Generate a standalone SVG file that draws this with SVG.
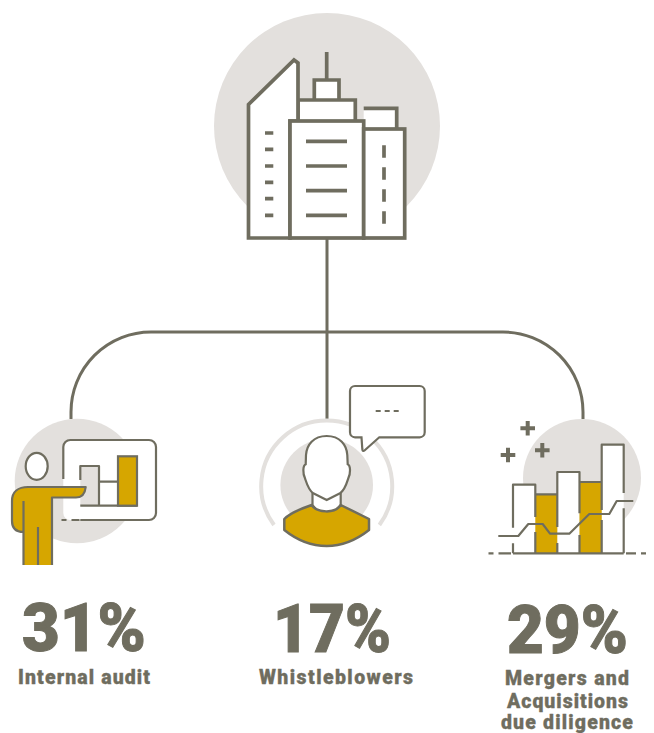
<svg xmlns="http://www.w3.org/2000/svg" width="654" height="733" viewBox="0 0 654 733">
<style>
.ln{fill:none;stroke:#6f6d5f;stroke-width:2.2;stroke-linejoin:round}
.bd{fill:#fff;stroke:#6f6d5f;stroke-width:3.7;stroke-linejoin:miter}
.wl{fill:none;stroke:#6f6d5f;stroke-width:3.7}
.bg{fill:#e3e0dd}
.au{fill:#d6a600}
.num{font-family:Roboto,"Liberation Sans",Arial,sans-serif;font-weight:900;font-size:67px;fill:#6f6d5f;stroke:#6f6d5f;stroke-width:1}
.lab{font-family:Roboto,"Liberation Sans",Arial,sans-serif;font-weight:900;font-size:19.5px;fill:#6f6d5f;stroke:#6f6d5f;stroke-width:.3}
</style>
<g id="connectors">
<path d="M327 238V419M71 419V412A80 80 0 0 1 151 332H503A80 80 0 0 1 583 412V419" fill="none" stroke="#6f6d5f" stroke-width="3"/>
</g>
<g id="node-building">
<circle class="bg" cx="327" cy="126" r="113"/>
<path class="wl" d="M326.7 52V80"/>
<path class="bd" d="M314.3 100V80H339V100"/>
<path class="bd" d="M298 121V100H355.3V121"/>
<path d="M363.7 108.300H396.7V129H363.700Z" fill="#fff"/>
<path class="wl" d="M363.700 108.300H396.700V129"/>
<path class="bd" d="M248.5 238V104.500L294 60L298 63V121H290V238Z"/>
<rect class="bd" x="290" y="121" width="73.700" height="117"/>
<rect class="bd" x="363.700" y="129" width="41" height="109"/>
<path class="wl" d="M265 133h8.300M265 149.300h8.300M265 166h8.300M265 182.300h8.300M265 198.700h8.300M265 215.300h8.300"/>
<path class="wl" d="M306 141.300h41M306 166h41M306 190.700h41M306 215.300h41"/>
<path class="wl" d="M384 145.300v12.400M384 167.300v12.400M384 189.300v12.400M384 211.300v12.400"/>
</g>
<g id="node-audit">
<circle class="bg" cx="77" cy="481" r="62.300"/>
<rect x="63.300" y="440" width="92.700" height="80" rx="7" fill="#fff"/>
<path class="ln" d="M63.300 479V447a7 7 0 0 1 7-7H149a7 7 0 0 1 7 7V513a7 7 0 0 1-7 7H80.300M61.500 520h5M71.500 520h8"/>
<path d="M80.300 466H99V505.700H80.300Z" class="bg"/>
<path class="ln" d="M80.300 480V466H99V505.700H80.300M99 481.700H118M99 505.700H137"/>
<rect x="118" y="456.300" width="19" height="49.400" fill="#d6a600" stroke="#6f6d5f" stroke-width="2.200"/>
<ellipse cx="36.700" cy="466.300" rx="11" ry="13.500" fill="#fff" stroke="#6f6d5f" stroke-width="2.200"/>
<path class="au" d="M23.500 565V532C16 532 12 528 12 521V501C12 492 18 487 28 487H85.700C85 494 82 497.500 76 497.500H52V565Z"/>
<path class="ln" d="M23.500 565V532C16 532 12 528 12 521V501C12 492 18 487 28 487H85.700C85 494 82 497.500 76 497.500H52V565M23.500 501V532M38 527V565"/>
</g>
<g id="node-whistleblowers">
<circle class="bg" cx="326.700" cy="485" r="46.300"/>
<path d="M274 525A65.500 65.500 0 1 1 379.400 525" fill="none" stroke="#e3e0dd" stroke-width="4"/>
<path d="M350 391a5 5 0 0 1 5-5H419.700a5 5 0 0 1 5 5V432.300a5 5 0 0 1-5 5H379.300L364.500 450.500Q362.700 452 362.300 449L361.500 437.300H355a5 5 0 0 1-5-5Z" fill="#fff" stroke="#6f6d5f" stroke-width="2.200"/>
<path d="M375.700 411H399" fill="none" stroke="#6f6d5f" stroke-width="2.200" stroke-dasharray="5 4"/>
<path d="M312.500 490V505C318 515 335 515 340.700 505V490Z" fill="#fff" stroke="#6f6d5f" stroke-width="2.200"/>
<path class="au" d="M284.300 519C290 513 300 509 311.700 505C317 513 335 514 340.700 505L369 519V530C355 541 342 546 326.700 546C311 546 298 541 284.300 530Z" stroke="#6f6d5f" stroke-width="2.500" stroke-linejoin="round"/>
<path d="M326.700 436C313.300 436 306.700 445 306 455L305.700 464.300C302.700 465.700 302.700 473.300 305 478.300C306.700 483.300 308.300 490 313.300 493.300L326.700 500L340 493.300C345 490 346.700 483.300 348.300 478.300C350.700 473.300 350.700 465.700 347.700 464.300L347.300 455C346.700 445 340 436 326.700 436Z" fill="#fff" stroke="#6f6d5f" stroke-width="2.200"/>
</g>
<g id="node-mergers">
<circle class="bg" cx="582" cy="478" r="59"/>
<path d="M513 484.700H535.300V553.300H513ZM557.300 472H579.500V553.300H557.300ZM601.700 444.700H623.700V553.300H601.700Z" fill="#fff"/>
<path class="au" d="M535.300 494.300H557.300V553.300H535.300ZM579.500 482H601.700V553.300H579.500Z"/>
<path class="ln" d="M513 527.700V484.700H535.300V517M535.300 532V553.300M535.300 494.300H557.300M557.300 527V472H579.500V513.300M557.300 543V553.300M579.500 535V553.300M579.500 482H601.700M601.700 510V444.700H623.700V493M601.700 520V553.300M623.700 508.300V553.300M513 543.300V553.300"/>
<path class="ln" d="M513 553.300H623.700"/>
<path class="ln" d="M488.500 553.300h5M498.500 553.300h12.500M626 553.300h10M641 553.300h5"/>
<path class="ln" d="M498.300 536H518.300L528.300 524H542.700L550 533.700H569.300L589.300 514H609.300L616.700 501H633.300"/>
<path d="M520.400 428.300h14.600M527.700 421v14.600M500.700 455h14.600M508 447.700v14.600M535 450.300h14.600M542.300 443v14.600" fill="none" stroke="#6f6d5f" stroke-width="4"/>
</g>
<g id="label-audit">
<text class="num" x="22" y="651" textLength="124" lengthAdjust="spacingAndGlyphs">31%</text>
<text class="lab" x="18" y="684" textLength="132" lengthAdjust="spacing">Internal audit</text>
</g>
<g id="label-whistleblowers">
<text class="num" x="273" y="652" textLength="118" lengthAdjust="spacingAndGlyphs">17%</text>
<text class="lab" x="259" y="684" textLength="154" lengthAdjust="spacing">Whistleblowers</text>
</g>
<g id="label-mergers">
<text class="num" x="507" y="653" textLength="121" lengthAdjust="spacingAndGlyphs">29%</text>
<text class="lab" x="505" y="685" textLength="124" lengthAdjust="spacing">Mergers and</text>
<text class="lab" x="507" y="707.500" textLength="121" lengthAdjust="spacing">Acquisitions</text>
<text class="lab" x="501" y="729" textLength="132" lengthAdjust="spacing">due diligence</text>
</g>
</svg>
